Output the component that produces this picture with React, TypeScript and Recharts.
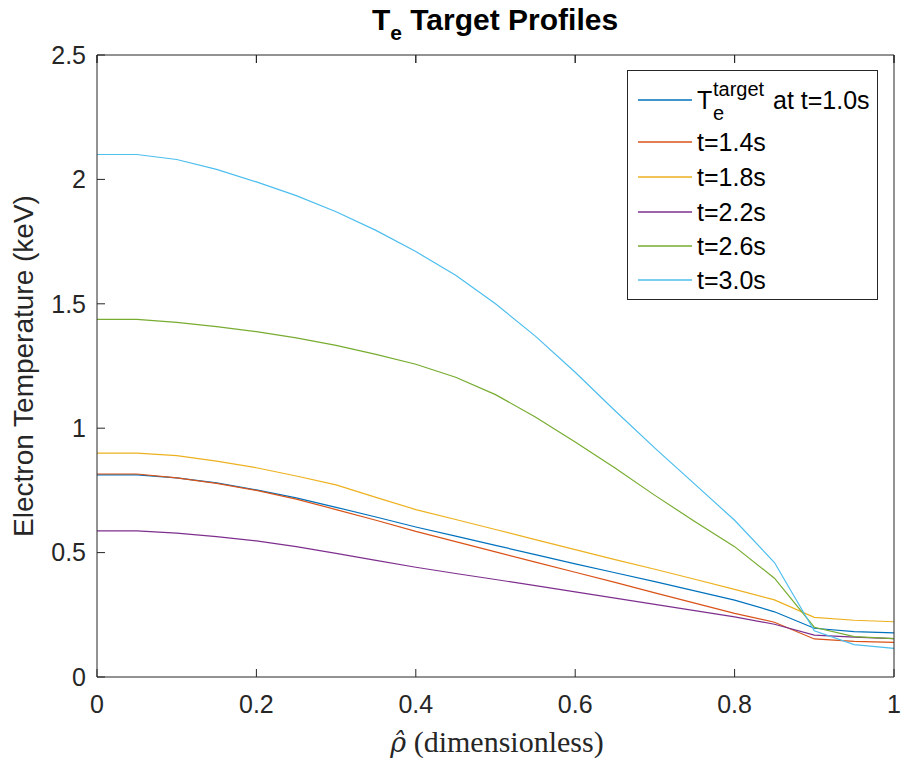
import React from 'react';
import { LineChart, Line, XAxis, YAxis, Legend, Customized } from 'recharts';

const rho = [0, 0.05, 0.1, 0.15, 0.2, 0.25, 0.3, 0.35, 0.4, 0.45, 0.5, 0.55, 0.6, 0.65, 0.7, 0.75, 0.8, 0.85, 0.9, 0.95, 1.0];
const te10 = [0.812, 0.812, 0.8, 0.78, 0.752, 0.72, 0.682, 0.643, 0.603, 0.566, 0.529, 0.492, 0.455, 0.419, 0.383, 0.346, 0.309, 0.262, 0.196, 0.182, 0.177];
const te14 = [0.816, 0.816, 0.8, 0.778, 0.75, 0.715, 0.673, 0.63, 0.585, 0.544, 0.503, 0.462, 0.421, 0.38, 0.338, 0.297, 0.256, 0.22, 0.153, 0.143, 0.139];
const te18 = [0.9, 0.9, 0.89, 0.868, 0.841, 0.808, 0.772, 0.722, 0.673, 0.633, 0.593, 0.552, 0.512, 0.472, 0.433, 0.393, 0.352, 0.31, 0.24, 0.228, 0.222];
const te22 = [0.587, 0.587, 0.578, 0.564, 0.547, 0.524, 0.497, 0.469, 0.441, 0.416, 0.392, 0.367, 0.342, 0.317, 0.292, 0.267, 0.242, 0.212, 0.168, 0.16, 0.154];
const te26 = [1.437, 1.437, 1.425, 1.408, 1.388, 1.363, 1.333, 1.297, 1.257, 1.205, 1.135, 1.045, 0.945, 0.84, 0.73, 0.625, 0.524, 0.397, 0.2, 0.162, 0.154];
const te30 = [2.1, 2.1, 2.08, 2.04, 1.99, 1.935, 1.87, 1.795, 1.71, 1.615, 1.5, 1.37, 1.225, 1.07, 0.92, 0.775, 0.63, 0.46, 0.186, 0.13, 0.115];

const seriesKeys = ['te10', 'te14', 'te18', 'te22', 'te26', 'te30'];
const seriesColors = ['#0072BD', '#D95319', '#EDB120', '#7E2F8E', '#77AC30', '#4DBEEE'];
const legendLabels = ['at t=1.0s', 't=1.4s', 't=1.8s', 't=2.2s', 't=2.6s', 't=3.0s'];
const xTicks = [0, 0.2, 0.4, 0.6, 0.8, 1];
const yTicks = [0, 0.5, 1, 1.5, 2, 2.5];

const seriesValues = [te10, te14, te18, te22, te26, te30];
const data = rho.map((r, i) => {
  const row: Record<string, number> = { rho: r };
  seriesKeys.forEach((k, j) => {
    row[k] = seriesValues[j][i];
  });
  return row;
});

const FONT = '"Liberation Sans", Arial, Helvetica, sans-serif';
const SERIF = '"Liberation Serif", "DejaVu Serif", serif';
const AXIS = '#262626';

const TopTick = (props: any) => (
  <line x1={props.x} x2={props.x} y1={props.y - 8} y2={props.y} stroke={AXIS} strokeWidth={1} />
);
const RightTick = (props: any) => (
  <line x1={props.x} x2={props.x + 8} y1={props.y} y2={props.y} stroke={AXIS} strokeWidth={1} />
);

const LegendBox = () => {
  const rowY = [30, 72, 107, 142, 176, 210];
  return (
    <svg width={252} height={231} style={{ display: 'block' }}>
      <rect x={0.5} y={0.5} width={250} height={229} fill="#fff" stroke={AXIS} strokeWidth={1} />
      {seriesColors.map((c, i) => (
        <line key={'l' + i} x1={11} x2={65} y1={rowY[i]} y2={rowY[i]} stroke={c} strokeWidth={1.3} />
      ))}
      <text x={70} y={39} fontFamily={FONT} fontSize={25} fill="#000">T</text>
      <text x={86} y={26} fontFamily={FONT} fontSize={20} fill="#000">target</text>
      <text x={86} y={50} fontFamily={FONT} fontSize={20} fill="#000">e</text>
      <text x={146} y={39} fontFamily={FONT} fontSize={25} fill="#000">{legendLabels[0]}</text>
      {legendLabels.slice(1).map((lab, i) => (
        <text key={'t' + i} x={70} y={rowY[i + 1] + 9} fontFamily={FONT} fontSize={25} fill="#000">
          {lab}
        </text>
      ))}
    </svg>
  );
};

const Texts = () => (
  <g>
    <text x={495} y={30} textAnchor="middle" fontFamily={FONT} fontWeight="bold" fontSize={30} fill="#000">
      <tspan>T</tspan>
      <tspan fontSize={21} dy={10}>e</tspan>
      <tspan fontSize={30} dy={-10}> Target Profiles</tspan>
    </text>
    <text
      x={33}
      y={366}
      textAnchor="middle"
      transform="rotate(-90, 33, 366)"
      fontFamily={FONT}
      fontSize={28}
      fill={AXIS}
    >
      Electron Temperature (keV)
    </text>
    <text x={497} y={752} textAnchor="middle" fontFamily={SERIF} fontSize={30} fill={AXIS}>
      <tspan fontStyle="italic" fontFamily='"DejaVu Serif", serif' fontSize={27}>{'\u03C1\u0302'}</tspan>
      <tspan> (dimensionless)</tspan>
    </text>
  </g>
);

export default function App() {
  return (
    <div style={{ position: 'absolute', left: 0, top: 0, width: 901, height: 767, background: '#fff' }}>
      <LineChart width={901} height={767} data={data} margin={{ top: 54, right: 6, bottom: 30, left: 37 }}>
        <XAxis
          dataKey="rho"
          type="number"
          domain={[0, 1]}
          ticks={xTicks}
          interval={0}
          height={60}
          tickSize={-8}
          tickMargin={26}
          stroke={AXIS}
          tick={{ fill: AXIS, fontSize: 25, fontFamily: FONT }}
        />
        <XAxis
          xAxisId="top"
          orientation="top"
          dataKey="rho"
          type="number"
          domain={[0, 1]}
          ticks={xTicks}
          interval={0}
          height={1}
          tickSize={-8}
          tickMargin={0}
          stroke={AXIS}
          tick={TopTick}
        />
        <YAxis
          type="number"
          domain={[0, 2.5]}
          ticks={yTicks}
          interval={0}
          width={60}
          tickSize={-8}
          tickMargin={19}
          stroke={AXIS}
          tick={{ fill: AXIS, fontSize: 25, fontFamily: FONT }}
        />
        <YAxis
          yAxisId="right"
          orientation="right"
          type="number"
          domain={[0, 2.5]}
          ticks={yTicks}
          interval={0}
          width={1}
          tickSize={-8}
          tickMargin={0}
          stroke={AXIS}
          tick={RightTick}
        />
        {seriesKeys.map((k, i) => (
          <Line
            key={k}
            dataKey={k}
            stroke={seriesColors[i]}
            strokeWidth={1.2}
            dot={false}
            activeDot={false}
            isAnimationActive={false}
          />
        ))}
        <Legend
          layout="vertical"
          align="center"
          verticalAlign="middle"
          content={() => <LegendBox />}
          wrapperStyle={{ position: 'absolute', left: 627, top: 70, width: 252, height: 231 }}
        />
        <Customized component={Texts} />
      </LineChart>
    </div>
  );
}
